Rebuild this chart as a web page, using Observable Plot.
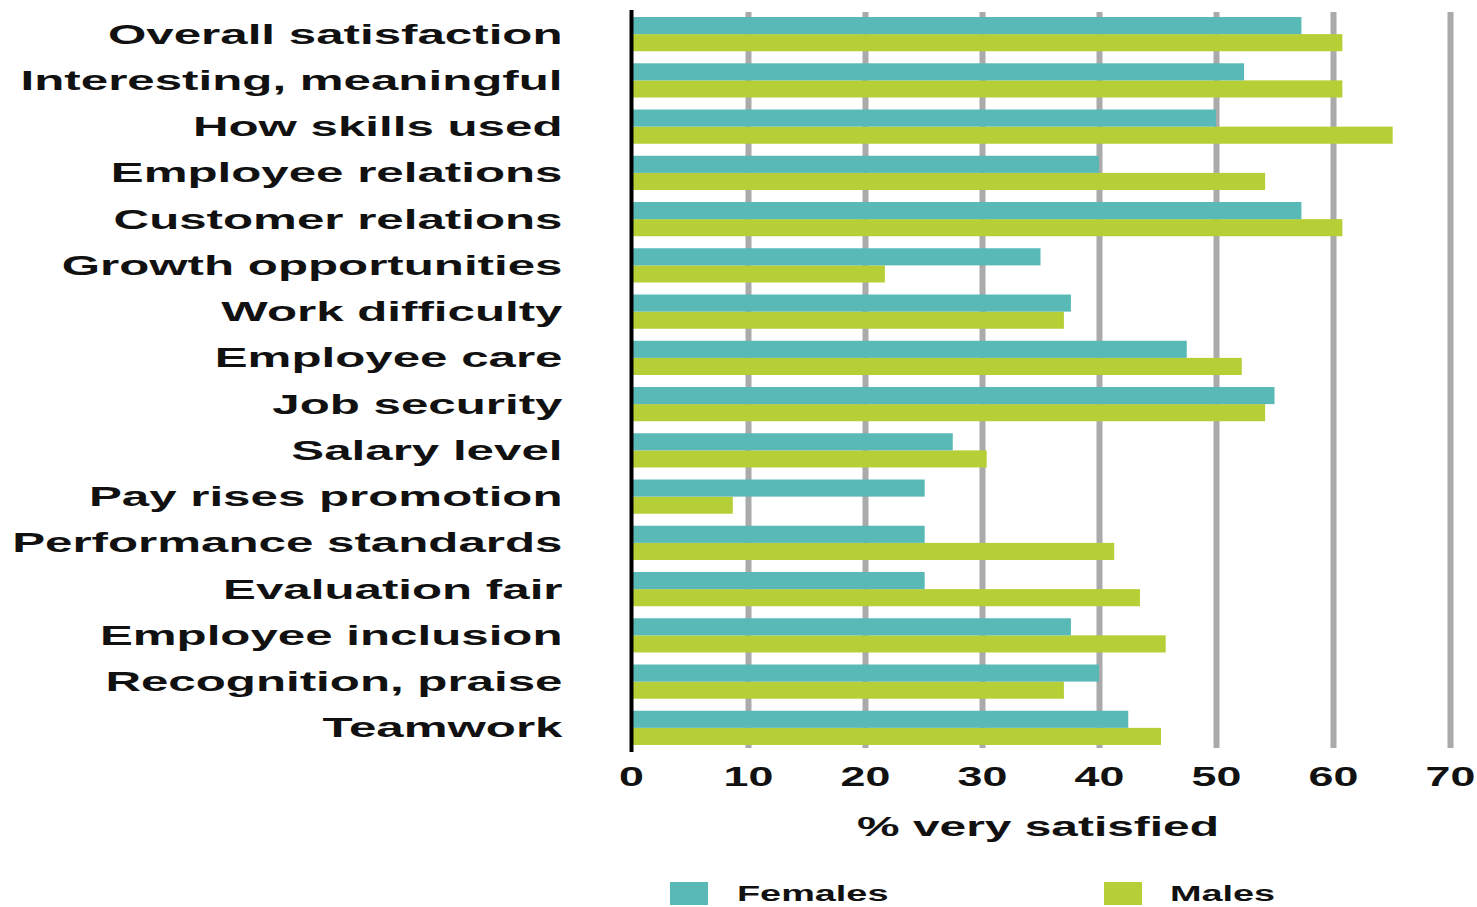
<!DOCTYPE html>
<html><head><meta charset="utf-8">
<script src="https://cdn.jsdelivr.net/npm/d3@7"></script>
<script src="https://cdn.jsdelivr.net/npm/@observablehq/plot@0.6"></script>
<style>
body{margin:0;background:#fff;font-family:"Liberation Sans",Arial,sans-serif;color:#111;}
#wrap{position:relative;width:1477px;height:907px;overflow:hidden;}
#chart{position:absolute;left:0;top:0;}
.title{position:absolute;top:813px;left:1038px;font-size:28px;font-weight:bold;line-height:1;white-space:nowrap;transform:translateX(-50%) scaleX(1.71);}
.sw{position:absolute;width:38px;height:23px;top:882px;}
.lt{position:absolute;top:882px;font-size:22px;font-weight:bold;line-height:23px;white-space:nowrap;transform-origin:left center;transform:scaleX(1.72);}
</style></head><body><div id="wrap"><div id="chart"></div></div>
<script>
const categories = ["Overall satisfaction","Interesting, meaningful","How skills used","Employee relations","Customer relations","Growth opportunities","Work difficulty","Employee care","Job security","Salary level","Pay rises promotion","Performance standards","Evaluation fair","Employee inclusion","Recognition, praise","Teamwork"];
const females = [57.3,52.4,50.0,40.0,57.3,35.0,37.6,47.5,55.0,27.5,25.1,25.1,25.1,37.6,40.0,42.5];
const males   = [60.8,60.8,65.1,54.2,60.8,21.7,37.0,52.2,54.2,30.4,8.7,41.3,43.5,45.7,37.0,45.3];
const xTicks = [0,10,20,30,40,50,60,70];
const seriesNames = ["Females","Males"];
const seriesColors = ["#58b9b7","#b6cf36"];
const axisTitle = "% very satisfied";

const femaleData = categories.map((c,i)=>({category:c, series:seriesNames[0], value:females[i]}));
const maleData = categories.map((c,i)=>({category:c, series:seriesNames[1], value:males[i]}));

const W = 1477, H = 800, mTop = 5, mBottom = 43, pad = 0.26, n = categories.length;
const step = (H - mTop - mBottom) / (n + pad);
const bw = step * (1 - pad);

const svg = Plot.plot({
  width: W, height: H,
  marginLeft: 631, marginRight: 27, marginTop: mTop, marginBottom: mBottom,
  style: {fontFamily: "'Liberation Sans', Arial, sans-serif", fontSize: "28px", fontWeight: "bold", color: "#111", background: "#fff"},
  x: {domain: [0, 70]},
  y: {domain: categories, padding: pad, round: false},
  marks: [
    Plot.ruleX(xTicks.filter(d => d > 0), {stroke: "#aaaaaa", strokeWidth: 6, insetTop: 7, insetBottom: 9}),
    Plot.barX(maleData, {x: "value", y: "category", fill: seriesColors[1], insetTop: bw/2}),
    Plot.barX(femaleData, {x: "value", y: "category", fill: seriesColors[0], insetBottom: bw/2}),
    Plot.ruleX([0], {stroke: "#000", strokeWidth: 4, insetTop: 5, insetBottom: 5}),
    Plot.axisY({tickSize: 0, tickPadding: 69, label: null}),
    Plot.axisX(xTicks, {tickSize: 0, tickPadding: 9, label: null})
  ]
});

function stretch(texts, s){
  texts.forEach(t => {
    let tr = t.getAttribute("transform") || "";
    const x = t.getAttribute("x");
    if (x !== null && !isNaN(+x)) { tr += ` translate(${+x},0)`; t.removeAttribute("x"); }
    const dx = t.getAttribute("dx");
    if (dx !== null && !isNaN(+dx)) { tr += ` translate(${+dx},0)`; t.removeAttribute("dx"); }
    t.setAttribute("transform", (tr + ` scale(${s},1)`).trim());
  });
}
const allTexts = Array.from(svg.querySelectorAll("text"));
const xLabels = xTicks.map(String);
const xTexts = allTexts.filter(t => xLabels.includes(t.textContent));
const yTexts = allTexts.filter(t => !xTexts.includes(t));
stretch(yTexts, 1.76);
stretch(xTexts, 1.6);
document.getElementById("chart").appendChild(svg);

const wrap = document.getElementById("wrap");
const t = document.createElement("div");
t.className = "title"; t.textContent = axisTitle; wrap.appendChild(t);
const legendX = [[670, 737],[1104, 1170]];
seriesNames.forEach((name, i) => {
  const sw = document.createElement("div");
  sw.className = "sw"; sw.style.left = legendX[i][0] + "px"; sw.style.background = seriesColors[i];
  wrap.appendChild(sw);
  const lt = document.createElement("div");
  lt.className = "lt"; lt.style.left = legendX[i][1] + "px"; lt.textContent = name;
  wrap.appendChild(lt);
});
</script></body></html>
